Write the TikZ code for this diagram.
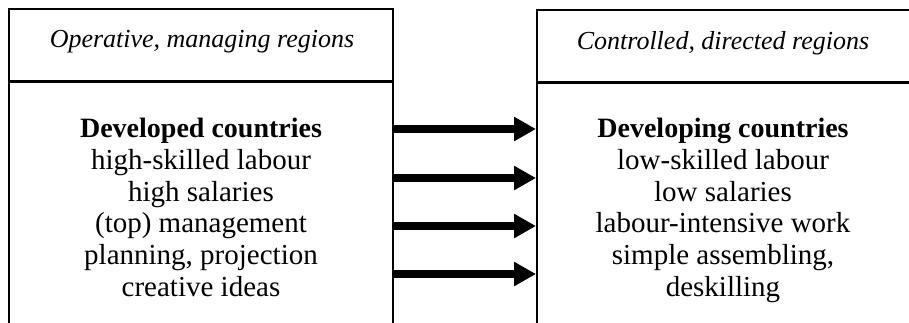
\documentclass[tikz,border=0pt]{standalone}
\usepackage{fontspec}
\setmainfont{Liberation Serif}
\usetikzlibrary{arrows.meta}
\begin{document}
\begin{tikzpicture}[x=1pt,y=-1pt,
  frame/.style={line width=2pt},
  divider/.style={line width=3pt},
  headtext/.style={font=\fontsize{26}{30}\selectfont\itshape, inner sep=0pt},
  bodytext/.style={font=\fontsize{29}{31.7}\selectfont, align=center, inner sep=0pt, anchor=north},
  titletext/.style={font=\fontsize{28}{31.7}\selectfont\bfseries},
  flow/.style={line width=7.5pt, -{Triangle[length=22pt,width=23pt]}}
]
\useasboundingbox (0,0) rectangle (909,322);
% left box
\draw[frame] (9,330) -- (9,9) -- (393,9) -- (393,330);
\draw[divider] (9,81) -- (393,81);
% right box
\draw[frame] (537,330) -- (537,10) -- (912,10) -- (912,330);
\draw[divider] (537,82) -- (912,82);
% headers
\node[headtext] (lh) at (202,42) {Operative, managing regions};
\node[headtext] (rh) at (723,43) {Controlled, directed regions};
% bodies
\node[bodytext] (lb) at (201,118) {{\fontsize{28}{31.7}\selectfont\bfseries Developed countries}\\high-skilled labour\\high salaries\\(top) management\\planning, projection\\creative ideas};
\node[bodytext] (rb) at (723,118) {{\fontsize{28}{31.7}\selectfont\bfseries Developing countries}\\low-skilled labour\\low salaries\\labour-intensive work\\simple assembling,\\deskilling};
% arrow endpoints on box edges
\coordinate (a1) at (393,129); \coordinate (b1) at (536,129);
\coordinate (a2) at (393,178); \coordinate (b2) at (536,178);
\coordinate (a3) at (393,226); \coordinate (b3) at (536,226);
\coordinate (a4) at (393,274); \coordinate (b4) at (536,274);
\draw[flow] (a1) -- (b1);
\draw[flow] (a2) -- (b2);
\draw[flow] (a3) -- (b3);
\draw[flow] (a4) -- (b4);
\end{tikzpicture}
\end{document}
